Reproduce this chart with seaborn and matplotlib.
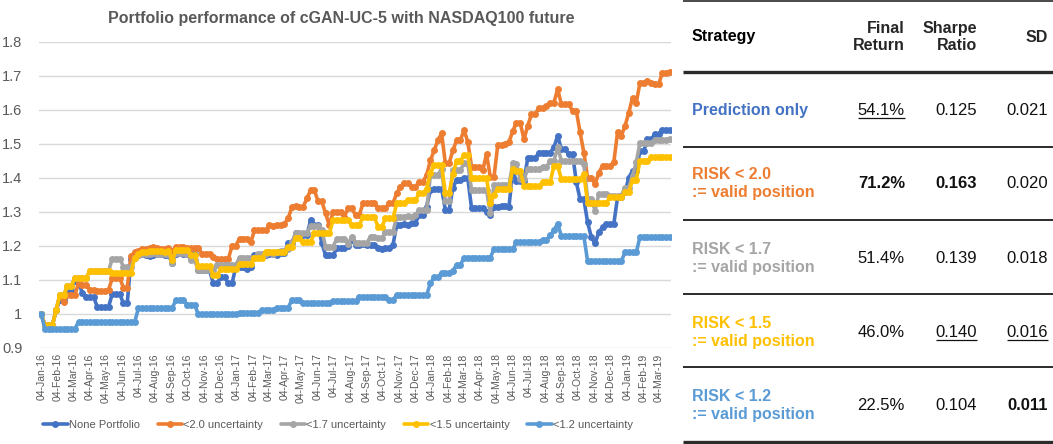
import matplotlib
matplotlib.use('Agg')
import matplotlib.pyplot as plt
from matplotlib.lines import Line2D
from matplotlib.ticker import FuncFormatter
import matplotlib.dates as mdates
import numpy as np
import pandas as pd
import seaborn as sns

# weekly observations, 04-Jan-16 .. 25-Mar-19
weeks = pd.date_range('2016-01-04', periods=169, freq='7D')

none_portfolio = [
    1.000, 0.966, 0.966, 0.966, 1.010, 1.040, 1.040, 1.070, 1.070, 1.095, 1.095, 1.060,
    1.050, 1.050, 1.050, 1.020, 1.020, 1.020, 1.020, 1.058, 1.058, 1.058, 1.030, 1.030,
    1.160, 1.172, 1.172, 1.175, 1.172, 1.170, 1.172, 1.175, 1.175, 1.172, 1.172, 1.150,
    1.175, 1.178, 1.175, 1.175, 1.177, 1.177, 1.128, 1.128, 1.128, 1.128, 1.089, 1.089,
    1.109, 1.109, 1.089, 1.089, 1.137, 1.137, 1.137, 1.130, 1.137, 1.172, 1.172, 1.172,
    1.172, 1.175, 1.175, 1.172, 1.178, 1.178, 1.207, 1.207, 1.236, 1.230, 1.230, 1.230,
    1.275, 1.260, 1.260, 1.207, 1.172, 1.172, 1.172, 1.192, 1.192, 1.192, 1.200, 1.217,
    1.202, 1.202, 1.205, 1.202, 1.202, 1.202, 1.193, 1.190, 1.193, 1.193, 1.202, 1.261,
    1.261, 1.265, 1.261, 1.268, 1.268, 1.290, 1.290, 1.315, 1.364, 1.368, 1.368, 1.368,
    1.305, 1.305, 1.370, 1.393, 1.393, 1.398, 1.398, 1.310, 1.310, 1.310, 1.310, 1.300,
    1.290, 1.315, 1.315, 1.318, 1.318, 1.315, 1.420, 1.390, 1.390, 1.390, 1.457, 1.457,
    1.457, 1.474, 1.474, 1.474, 1.474, 1.489, 1.523, 1.484, 1.484, 1.469, 1.469, 1.386,
    1.337, 1.337, 1.269, 1.225, 1.207, 1.240, 1.254, 1.264, 1.264, 1.264, 1.342, 1.342,
    1.357, 1.400, 1.420, 1.420, 1.479, 1.479, 1.513, 1.513, 1.528, 1.528, 1.541, 1.541,
    1.541,
]
unc_20 = [
    1.000, 0.966, 0.966, 0.966, 1.010, 1.055, 1.035, 1.055, 1.055, 1.055, 1.090, 1.085,
    1.085, 1.070, 1.070, 1.068, 1.068, 1.066, 1.070, 1.104, 1.104, 1.104, 1.077, 1.077,
    1.170, 1.180, 1.185, 1.190, 1.190, 1.192, 1.195, 1.192, 1.190, 1.190, 1.192, 1.185,
    1.195, 1.195, 1.197, 1.192, 1.192, 1.192, 1.192, 1.177, 1.177, 1.177, 1.167, 1.160,
    1.160, 1.160, 1.160, 1.200, 1.200, 1.221, 1.221, 1.221, 1.210, 1.245, 1.245, 1.245,
    1.245, 1.260, 1.258, 1.262, 1.260, 1.265, 1.280, 1.314, 1.318, 1.314, 1.314, 1.339,
    1.363, 1.363, 1.330, 1.330, 1.295, 1.260, 1.300, 1.300, 1.300, 1.285, 1.310, 1.310,
    1.290, 1.290, 1.325, 1.325, 1.325, 1.325, 1.310, 1.310, 1.310, 1.325, 1.325, 1.354,
    1.373, 1.383, 1.383, 1.373, 1.373, 1.388, 1.388, 1.408, 1.451, 1.480, 1.510, 1.530,
    1.442, 1.442, 1.480, 1.510, 1.510, 1.540, 1.505, 1.432, 1.432, 1.432, 1.422, 1.470,
    1.403, 1.403, 1.496, 1.496, 1.500, 1.505, 1.537, 1.562, 1.562, 1.513, 1.552, 1.587,
    1.587, 1.606, 1.606, 1.610, 1.621, 1.621, 1.660, 1.616, 1.616, 1.616, 1.596, 1.596,
    1.533, 1.474, 1.400, 1.400, 1.381, 1.415, 1.435, 1.435, 1.435, 1.445, 1.533, 1.523,
    1.552, 1.591, 1.635, 1.620, 1.680, 1.680, 1.685, 1.680, 1.675, 1.675, 1.709, 1.709,
    1.712,
]
unc_17 = [
    1.000, 0.966, 0.966, 0.966, 1.010, 1.055, 1.055, 1.080, 1.080, 1.105, 1.105, 1.105,
    1.105, 1.125, 1.125, 1.125, 1.125, 1.125, 1.125, 1.162, 1.162, 1.162, 1.138, 1.138,
    1.138, 1.165, 1.172, 1.175, 1.175, 1.175, 1.178, 1.175, 1.175, 1.175, 1.175, 1.150,
    1.178, 1.178, 1.178, 1.175, 1.157, 1.157, 1.128, 1.128, 1.128, 1.128, 1.128, 1.143,
    1.143, 1.143, 1.143, 1.143, 1.143, 1.165, 1.165, 1.165, 1.165, 1.165, 1.177, 1.177,
    1.177, 1.180, 1.177, 1.180, 1.185, 1.185, 1.190, 1.210, 1.236, 1.236, 1.236, 1.236,
    1.258, 1.258, 1.258, 1.245, 1.197, 1.197, 1.197, 1.221, 1.221, 1.221, 1.205, 1.227,
    1.207, 1.207, 1.207, 1.207, 1.227, 1.227, 1.222, 1.222, 1.241, 1.241, 1.241, 1.285,
    1.285, 1.285, 1.288, 1.285, 1.290, 1.305, 1.305, 1.305, 1.407, 1.407, 1.407, 1.427,
    1.330, 1.330, 1.422, 1.422, 1.422, 1.442, 1.442, 1.364, 1.364, 1.364, 1.364, 1.364,
    1.295, 1.378, 1.378, 1.378, 1.378, 1.378, 1.442, 1.440, 1.396, 1.396, 1.425, 1.425,
    1.425, 1.425, 1.430, 1.430, 1.450, 1.450, 1.489, 1.450, 1.450, 1.450, 1.450, 1.450,
    1.450, 1.440, 1.337, 1.337, 1.303, 1.352, 1.352, 1.352, 1.347, 1.347, 1.347, 1.347,
    1.371, 1.371, 1.406, 1.445, 1.503, 1.503, 1.503, 1.503, 1.510, 1.510, 1.510, 1.510,
    1.514,
]
unc_15 = [
    1.000, 0.966, 0.966, 0.966, 1.010, 1.055, 1.055, 1.080, 1.080, 1.105, 1.105, 1.105,
    1.105, 1.125, 1.125, 1.125, 1.125, 1.125, 1.125, 1.120, 1.120, 1.120, 1.120, 1.120,
    1.120, 1.165, 1.175, 1.180, 1.180, 1.185, 1.185, 1.185, 1.185, 1.180, 1.185, 1.157,
    1.187, 1.187, 1.187, 1.187, 1.172, 1.172, 1.140, 1.140, 1.140, 1.140, 1.113, 1.113,
    1.130, 1.130, 1.130, 1.130, 1.130, 1.147, 1.147, 1.147, 1.147, 1.165, 1.165, 1.165,
    1.182, 1.182, 1.182, 1.182, 1.182, 1.182, 1.197, 1.197, 1.222, 1.222, 1.212, 1.212,
    1.212, 1.236, 1.236, 1.236, 1.236, 1.236, 1.275, 1.275, 1.275, 1.275, 1.275, 1.260,
    1.260, 1.260, 1.285, 1.285, 1.285, 1.285, 1.256, 1.256, 1.280, 1.280, 1.280, 1.325,
    1.325, 1.325, 1.334, 1.334, 1.334, 1.354, 1.354, 1.368, 1.413, 1.437, 1.437, 1.437,
    1.354, 1.354, 1.410, 1.450, 1.450, 1.466, 1.466, 1.400, 1.400, 1.400, 1.400, 1.400,
    1.325, 1.350, 1.368, 1.368, 1.368, 1.368, 1.427, 1.420, 1.420, 1.376, 1.376, 1.376,
    1.376, 1.376, 1.386, 1.386, 1.386, 1.435, 1.435, 1.396, 1.396, 1.396, 1.396, 1.396,
    1.396, 1.410, 1.327, 1.327, 1.327, 1.327, 1.327, 1.327, 1.342, 1.342, 1.342, 1.342,
    1.357, 1.357, 1.393, 1.393, 1.450, 1.450, 1.450, 1.460, 1.460, 1.460, 1.460, 1.460,
    1.460,
]
unc_12 = [
    1.000, 0.955, 0.955, 0.955, 0.955, 0.955, 0.955, 0.955, 0.955, 0.955, 0.976, 0.976,
    0.976, 0.976, 0.976, 0.976, 0.976, 0.976, 0.976, 0.976, 0.976, 0.976, 0.976, 0.976,
    0.976, 0.976, 1.016, 1.016, 1.016, 1.016, 1.016, 1.016, 1.016, 1.016, 1.016, 1.016,
    1.040, 1.040, 1.040, 1.027, 1.027, 1.027, 0.998, 0.998, 0.998, 0.998, 0.998, 0.998,
    0.998, 0.998, 0.998, 0.998, 0.998, 1.001, 1.001, 1.001, 1.001, 1.001, 1.001, 1.010,
    1.010, 1.010, 1.010, 1.018, 1.018, 1.018, 1.018, 1.040, 1.040, 1.040, 1.032, 1.032,
    1.032, 1.032, 1.032, 1.032, 1.032, 1.032, 1.036, 1.036, 1.036, 1.036, 1.036, 1.036,
    1.036, 1.050, 1.050, 1.050, 1.050, 1.050, 1.050, 1.050, 1.050, 1.041, 1.041, 1.055,
    1.055, 1.055, 1.055, 1.055, 1.055, 1.055, 1.055, 1.055, 1.090, 1.107, 1.107, 1.120,
    1.120, 1.120, 1.127, 1.143, 1.143, 1.165, 1.165, 1.165, 1.165, 1.165, 1.165, 1.165,
    1.165, 1.190, 1.190, 1.190, 1.190, 1.190, 1.190, 1.210, 1.210, 1.210, 1.210, 1.210,
    1.210, 1.210, 1.218, 1.218, 1.230, 1.245, 1.265, 1.228, 1.228, 1.228, 1.228, 1.228,
    1.228, 1.228, 1.155, 1.155, 1.155, 1.155, 1.155, 1.155, 1.155, 1.155, 1.155, 1.155,
    1.180, 1.180, 1.180, 1.180, 1.226, 1.226, 1.226, 1.226, 1.226, 1.226, 1.226, 1.226,
    1.225,
]

series_names = ['None Portfolio', '<2.0 uncertainty', '<1.7 uncertainty',
                '<1.5 uncertainty', '<1.2 uncertainty']
series_colors = ['#4472C4', '#ED7D31', '#A5A5A5', '#FFC000', '#5B9BD5']

# table on the right
strategy_labels = ['Prediction only', 'RISK < 2.0\n:= valid position', 'RISK < 1.7\n:= valid position',
                   'RISK < 1.5\n:= valid position', 'RISK < 1.2\n:= valid position']
final_return = ['54.1%', '71.2%', '51.4%', '46.0%', '22.5%']
sharpe_ratio = ['0.125', '0.163', '0.139', '0.140', '0.104']
sd_values = ['0.021', '0.020', '0.018', '0.016', '0.011']
bold_cells = [(1, 0), (1, 1), (4, 2)]
underlined_cells = [(0, 0), (3, 1), (3, 2)]

sns.set_style('white')
plt.rcParams['font.family'] = ['Liberation Sans', 'DejaVu Sans']

W, H = 1053, 444
fig = plt.figure(figsize=(W / 100, H / 100), dpi=100)
ax = fig.add_axes([39 / W, 1 - 347.7 / H, (671 - 39) / W, (347.7 - 41.7) / H])

df = pd.DataFrame({
    'date': np.tile(weeks, len(series_names)),
    'value': none_portfolio + unc_20 + unc_17 + unc_15 + unc_12,
    'series': np.repeat(series_names, len(weeks)),
})
sns.lineplot(data=df, x='date', y='value', hue='series', hue_order=series_names,
             palette=series_colors, marker='o', markersize=5, markeredgewidth=0,
             linewidth=2.6, errorbar=None, legend=False, ax=ax)

ax.set_xlim(pd.Timestamp('2015-12-31'), pd.Timestamp('2019-03-27'))
ax.set_ylim(0.9, 1.8)
ax.set_yticks(np.arange(0.9, 1.81, 0.1))
ax.yaxis.set_major_formatter(FuncFormatter(lambda v, p: f'{round(v, 1):g}'))
month_ticks = pd.date_range('2016-01-01', '2019-03-01', freq='MS') + pd.Timedelta(days=3)
ax.set_xticks(month_ticks)
ax.xaxis.set_major_formatter(mdates.DateFormatter('%d-%b-%y'))
ax.tick_params(axis='x', rotation=90, labelsize=7.5, colors='#595959', length=0, pad=4)
ax.tick_params(axis='y', labelsize=10.5, colors='#595959', length=0, pad=12)
ax.grid(axis='y', color='#D9D9D9', lw=1)
ax.set_axisbelow(True)
for s in ax.spines.values():
    s.set_visible(False)
ax.set_xlabel('')
ax.set_ylabel('')

fig.text(341 / W, 1 - 18 / H, 'Portfolio performance of cGAN-UC-5 with NASDAQ100 future',
         ha='center', va='center', fontsize=11.5, fontweight='bold', color='#595959')

handles = [Line2D([0], [0], color=c, lw=2.6, marker='o', ms=5, mew=0) for c in series_colors]
fig.legend(handles, series_names, loc='center', bbox_to_anchor=(338 / W, 1 - 425 / H), ncol=5,
           frameon=False, fontsize=8, handlelength=2.2, handletextpad=0.1,
           columnspacing=1.6, labelcolor='#595959')

# table drawn in pixel coordinates
tax = fig.add_axes([0, 0, 1, 1])
tax.set_xlim(0, W)
tax.set_ylim(H, 0)
tax.axis('off')
tax.patch.set_visible(False)

rule_color = '#2b2b2b'
tax.hlines([1], 683, W, color=rule_color, lw=1.2)
tax.hlines([72, 442], 683, W, color=rule_color, lw=2.4)
tax.hlines([147, 220, 294, 367], 683, W, color=rule_color, lw=1.4)

fs = 11.5
tax.text(692, 37, 'Strategy', ha='left', va='center', fontsize=fs, fontweight='bold', color='black')
col_right = [905, 977, 1048]
tax.text(col_right[0], 37, 'Final\nReturn', ha='right', va='center', fontsize=fs,
         fontweight='bold', linespacing=1.15, multialignment='right')
tax.text(col_right[1], 37, 'Sharpe\nRatio', ha='right', va='center', fontsize=fs,
         fontweight='bold', linespacing=1.15, multialignment='right')
tax.text(col_right[2], 37, 'SD', ha='right', va='center', fontsize=fs, fontweight='bold')

row_y = [110, 183, 258, 332, 405]
underline_texts = []
for i, (lab, col) in enumerate(zip(strategy_labels, series_colors)):
    tax.text(692, row_y[i], lab, ha='left', va='center', fontsize=fs, fontweight='bold',
             color=col, linespacing=1.25)
    for j, val in enumerate([final_return[i], sharpe_ratio[i], sd_values[i]]):
        t = tax.text(col_right[j], row_y[i], val, ha='right', va='center', fontsize=12,
                     fontweight='bold' if (i, j) in bold_cells else 'normal', color='#111111')
        if (i, j) in underlined_cells:
            underline_texts.append((t, row_y[i]))

fig.canvas.draw()
renderer = fig.canvas.get_renderer()
inv = tax.transData.inverted()
for t, y in underline_texts:
    bb = t.get_window_extent(renderer)
    x0, _ = inv.transform((bb.x0, bb.y0))
    x1, _ = inv.transform((bb.x1, bb.y0))
    tax.hlines(y + 8, x0, x1, color='#111111', lw=0.9)

fig.savefig('out.png', dpi=100)
